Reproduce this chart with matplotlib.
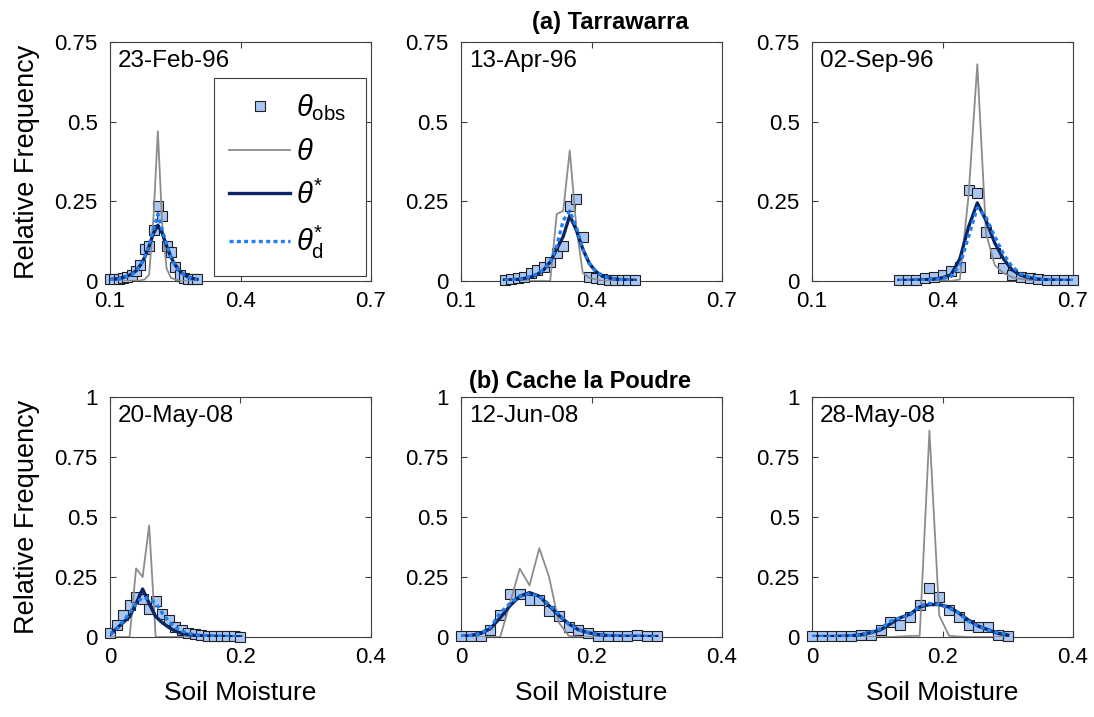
import matplotlib.pyplot as plt

plt.rcParams['font.family'] = ['Liberation Sans', 'DejaVu Sans']
plt.rcParams['mathtext.fontset'] = 'custom'
plt.rcParams['mathtext.rm'] = 'Liberation Sans'
plt.rcParams['mathtext.it'] = 'Liberation Sans:italic'
plt.rcParams['mathtext.bf'] = 'Liberation Sans:bold'

# ---- Tarrawarra ----
dates_a = ['23-Feb-96', '13-Apr-96', '02-Sep-96']

sm_feb96 = [0.10, 0.11, 0.12, 0.13, 0.14, 0.15, 0.16, 0.17, 0.18, 0.19, 0.20,
            0.21, 0.22, 0.23, 0.24, 0.25, 0.26, 0.27, 0.28, 0.29, 0.30]
obs_feb96 = [0.005, 0.005, 0.005, 0.008, 0.012, 0.02, 0.03, 0.05, 0.10, 0.11, 0.16,
             0.235, 0.205, 0.11, 0.09, 0.045, 0.02, 0.01, 0.006, 0.005, 0.005]
theta_feb96 = [0, 0, 0, 0, 0, 0, 0, 0.002, 0.005, 0.02, 0.20,
               0.47, 0.18, 0.04, 0.01, 0.005, 0, 0, 0, 0, 0]
star_feb96 = [0.005, 0.006, 0.008, 0.011, 0.015, 0.022, 0.032, 0.05, 0.075, 0.11, 0.15,
              0.175, 0.15, 0.11, 0.075, 0.05, 0.032, 0.02, 0.012, 0.008, 0.005]
stard_feb96 = [0.004, 0.005, 0.007, 0.01, 0.014, 0.02, 0.03, 0.048, 0.075, 0.115, 0.16,
               0.21, 0.16, 0.115, 0.075, 0.048, 0.03, 0.02, 0.012, 0.007, 0.004]

sm_apr96 = [0.200, 0.215, 0.230, 0.245, 0.260, 0.275, 0.290, 0.305, 0.320, 0.335, 0.350,
            0.365, 0.380, 0.395, 0.410, 0.425, 0.440, 0.455, 0.470, 0.485, 0.500]
obs_apr96 = [0.003, 0.006, 0.008, 0.014, 0.024, 0.035, 0.045, 0.06, 0.087, 0.11, 0.235,
             0.256, 0.137, 0.013, 0.008, 0.006, 0.004, 0.003, 0.003, 0.002, 0.002]
theta_apr96 = [0, 0, 0, 0, 0, 0, 0, 0, 0.21, 0.22, 0.41,
               0.17, 0.025, 0.01, 0.005, 0, 0, 0, 0, 0, 0]
star_apr96 = [0.003, 0.004, 0.005, 0.008, 0.012, 0.02, 0.035, 0.06, 0.10, 0.14, 0.205,
              0.16, 0.10, 0.055, 0.03, 0.015, 0.01, 0.006, 0.004, 0.003, 0.002]
stard_apr96 = [0.003, 0.004, 0.006, 0.009, 0.014, 0.022, 0.035, 0.06, 0.11, 0.19, 0.22,
               0.17, 0.10, 0.055, 0.03, 0.017, 0.01, 0.006, 0.004, 0.003, 0.002]

sm_sep96 = [0.30, 0.32, 0.34, 0.36, 0.38, 0.40, 0.42, 0.44, 0.46, 0.48, 0.50,
            0.52, 0.54, 0.56, 0.58, 0.60, 0.62, 0.64, 0.66, 0.68, 0.70]
obs_sep96 = [0.002, 0.002, 0.002, 0.008, 0.012, 0.019, 0.03, 0.045, 0.286, 0.277, 0.155,
             0.087, 0.04, 0.02, 0.012, 0.008, 0.005, 0.004, 0.003, 0.002, 0.002]
theta_sep96 = [0, 0, 0, 0, 0, 0, 0, 0.005, 0.27, 0.68, 0.15,
               0.05, 0.025, 0.012, 0.006, 0.003, 0, 0, 0, 0, 0]
star_sep96 = [0.002, 0.002, 0.003, 0.004, 0.006, 0.01, 0.02, 0.07, 0.17, 0.245, 0.19,
              0.12, 0.07, 0.035, 0.018, 0.01, 0.006, 0.004, 0.003, 0.002, 0.002]
stard_sep96 = [0.001, 0.002, 0.002, 0.003, 0.005, 0.008, 0.015, 0.05, 0.14, 0.23, 0.20,
               0.14, 0.085, 0.045, 0.022, 0.012, 0.007, 0.004, 0.003, 0.002, 0.001]

# ---- Cache la Poudre ----
dates_b = ['20-May-08', '12-Jun-08', '28-May-08']

sm_may20 = [0.00, 0.01, 0.02, 0.03, 0.04, 0.05, 0.06, 0.07, 0.08, 0.09, 0.10,
            0.11, 0.12, 0.13, 0.14, 0.15, 0.16, 0.17, 0.18, 0.19, 0.20]
obs_may20 = [0.017, 0.049, 0.09, 0.135, 0.165, 0.16, 0.118, 0.15, 0.097, 0.07, 0.042,
             0.028, 0.017, 0.012, 0.008, 0.006, 0.005, 0.004, 0.003, 0.003, 0.002]
theta_may20 = [0, 0, 0, 0, 0.286, 0.25, 0.465, 0, 0, 0, 0,
               0, 0, 0, 0, 0, 0, 0, 0, 0, 0]
star_may20 = [0.01, 0.035, 0.06, 0.085, 0.14, 0.2, 0.14, 0.085, 0.06, 0.04, 0.025,
              0.015, 0.01, 0.007, 0.005, 0.004, 0.003, 0.002, 0.002, 0.001, 0.001]
stard_may20 = [0.012, 0.035, 0.065, 0.10, 0.14, 0.165, 0.16, 0.14, 0.10, 0.065, 0.04,
               0.025, 0.015, 0.01, 0.007, 0.005, 0.004, 0.003, 0.002, 0.002, 0.001]

sm_jun12 = [0.000, 0.015, 0.030, 0.045, 0.060, 0.075, 0.090, 0.105, 0.120, 0.135, 0.150,
            0.165, 0.180, 0.195, 0.210, 0.225, 0.240, 0.255, 0.270, 0.285, 0.300]
obs_jun12 = [0.005, 0.005, 0.003, 0.03, 0.09, 0.18, 0.18, 0.153, 0.153, 0.11, 0.086,
             0.042, 0.028, 0.017, 0.006, 0.004, 0.004, 0.006, 0.01, 0.003, 0.003]
theta_jun12 = [0, 0, 0, 0, 0, 0.14, 0.285, 0.215, 0.37, 0.25, 0.06,
               0.005, 0, 0, 0, 0, 0, 0, 0, 0, 0]
star_jun12 = [0.003, 0.006, 0.015, 0.035, 0.08, 0.13, 0.17, 0.185, 0.17, 0.13, 0.09,
              0.055, 0.03, 0.018, 0.01, 0.006, 0.004, 0.003, 0.003, 0.002, 0.002]
stard_jun12 = [0.003, 0.006, 0.015, 0.04, 0.10, 0.14, 0.17, 0.18, 0.17, 0.135, 0.095,
               0.055, 0.03, 0.018, 0.01, 0.006, 0.004, 0.003, 0.003, 0.002, 0.002]

sm_may28 = [0.000, 0.015, 0.030, 0.045, 0.060, 0.075, 0.090, 0.105, 0.120, 0.135, 0.150,
            0.165, 0.180, 0.195, 0.210, 0.225, 0.240, 0.255, 0.270, 0.285, 0.300]
obs_may28 = [0.003, 0.003, 0.003, 0.003, 0.003, 0.01, 0.008, 0.028, 0.063, 0.049, 0.083,
             0.132, 0.206, 0.167, 0.111, 0.083, 0.05, 0.042, 0.04, 0.007, 0.005]
theta_may28 = [0, 0, 0, 0, 0, 0, 0, 0, 0, 0.002, 0.004,
               0.005, 0.86, 0.09, 0.005, 0.002, 0, 0, 0, 0, 0]
star_may28 = [0.002, 0.002, 0.002, 0.003, 0.005, 0.01, 0.018, 0.03, 0.055, 0.08, 0.095,
              0.125, 0.135, 0.135, 0.125, 0.10, 0.07, 0.045, 0.03, 0.015, 0.008]
stard_may28 = [0.002, 0.002, 0.002, 0.003, 0.005, 0.01, 0.02, 0.035, 0.065, 0.08, 0.09,
               0.13, 0.14, 0.135, 0.12, 0.10, 0.065, 0.045, 0.03, 0.018, 0.01]

xticks_a = [0.1, 0.4, 0.7]
yticks_a = [0, 0.25, 0.5, 0.75]
xticks_b = [0, 0.2, 0.4]
yticks_b = [0, 0.25, 0.5, 0.75, 1]

rows = [
    dict(title='(a) Tarrawarra', dates=dates_a, xlim=(0.1, 0.7), ylim=(0, 0.75),
         xticks=xticks_a, yticks=yticks_a,
         data=[(sm_feb96, obs_feb96, theta_feb96, star_feb96, stard_feb96),
               (sm_apr96, obs_apr96, theta_apr96, star_apr96, stard_apr96),
               (sm_sep96, obs_sep96, theta_sep96, star_sep96, stard_sep96)]),
    dict(title='(b) Cache la Poudre', dates=dates_b, xlim=(0, 0.4), ylim=(0, 1),
         xticks=xticks_b, yticks=yticks_b,
         data=[(sm_may20, obs_may20, theta_may20, star_may20, stard_may20),
               (sm_jun12, obs_jun12, theta_jun12, star_jun12, stard_jun12),
               (sm_may28, obs_may28, theta_may28, star_may28, stard_may28)]),
]

W, H = 1094, 717
fig = plt.figure(figsize=(W / 100, H / 100), dpi=100)

lefts = [110, 461, 812]
tops = [42, 397]
bottoms = [281, 637]
width = 261

obs_face = '#a9c6f4'
gray = '#8c8c8c'
navy = '#0c2461'
blue = '#1f7ef0'

for r, row in enumerate(rows):
    for c in range(3):
        ax = fig.add_axes([lefts[c] / W, 1 - bottoms[r] / H,
                           width / W, (bottoms[r] - tops[r]) / H])
        sm, obs, th, st, sd = row['data'][c]
        ax.plot(sm, obs, 's', ms=6.8, mfc=obs_face, mec='#202020', mew=0.8,
                clip_on=False, zorder=3, label=r'$\theta_{\mathrm{obs}}$')
        ax.plot(sm, th, '-', color=gray, lw=1.3, zorder=4, label=r'$\theta$')
        ax.plot(sm, st, '-', color=navy, lw=2.4, zorder=5, label=r'$\theta^{*}$')
        ax.plot(sm, sd, color=blue, lw=2.4, ls=(0, (1.2, 1.0)), zorder=6,
                label=r'$\theta^{*}_{\mathrm{d}}$')

        ax.set_xlim(row['xlim'])
        ax.set_ylim(row['ylim'])
        ax.set_xticks(row['xticks'])
        ax.set_yticks(row['yticks'])
        ax.set_xticklabels([f'{t:g}' for t in row['xticks']])
        ax.set_yticklabels([f'{t:g}' for t in row['yticks']])
        ax.tick_params(direction='in', top=True, right=True, length=4,
                       width=0.8, color='#404040', labelsize=16)
        ax.tick_params(axis='x', pad=7)
        ax.tick_params(axis='y', pad=9)
        for sp in ax.spines.values():
            sp.set_color('#404040')
            sp.set_linewidth(0.8)

        ax.text(0.03, 0.965, row['dates'][c], transform=ax.transAxes,
                ha='left', va='top', fontsize=17.5)

        if c == 0:
            ax.set_ylabel('Relative Frequency', fontsize=19.5)
            ax.yaxis.set_label_coords(-0.27, 0.5)
        if r == 1:
            ax.set_xlabel('Soil Moisture', fontsize=19)
            ax.xaxis.set_label_coords(0.5, -0.185)

        if r == 0 and c == 0:
            leg = ax.legend(loc='upper left', bbox_to_anchor=(0.40, 0.02, 0.58, 0.83),
                            mode='expand', fontsize=21, frameon=True, fancybox=False,
                            edgecolor='#404040', framealpha=1, handlelength=2.1,
                            handletextpad=0.2, labelspacing=0.5, borderpad=0.5,
                            borderaxespad=0)
            leg.get_frame().set_linewidth(0.8)

fig.text(610 / W, 1 - 22 / H, rows[0]['title'], ha='center', va='center',
         fontsize=17, fontweight='bold')
fig.text(580 / W, 1 - 382 / H, rows[1]['title'], ha='center', va='center',
         fontsize=17, fontweight='bold')

fig.savefig('out.png', dpi=100)
